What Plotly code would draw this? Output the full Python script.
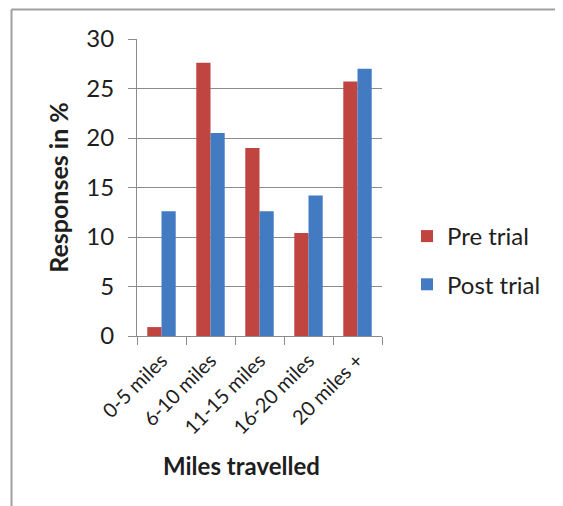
import plotly.graph_objects as go

categories = ["0-5 miles", "6-10 miles", "11-15 miles", "16-20 miles", "20 miles +"]
pre_trial = [0.9, 27.6, 19.0, 10.4, 25.7]
post_trial = [12.6, 20.5, 12.6, 14.2, 27.0]
y_ticks = [0, 5, 10, 15, 20, 25, 30]

# the page body adds an 8px offset; size the figure to fill the rest of the window
OFF = 8
W, H = 563 - OFF, 506 - OFF
L, R, T, B = 137 - OFF, 181, 39 - OFF, 170
pw, ph = W - L - R, H - T - B

def px(x):  # screen x -> paper
    return (x - OFF - L) / pw

def py(y):  # screen y -> paper
    return (H - B - (y - OFF)) / ph

FONT = "Lato"
TXT = "#1E1E1E"
GRID = "#8C8C8C"

fig = go.Figure()
fig.add_trace(go.Bar(x=categories, y=pre_trial, name="Pre trial", legendgroup="a",
                     marker=dict(color="#C0443F", line=dict(width=0))))
fig.add_trace(go.Bar(x=categories, y=post_trial, name="Post trial", legendgroup="b",
                     marker=dict(color="#427BC1", line=dict(width=0))))

fig.update_layout(
    width=W, height=H,
    margin=dict(l=L, r=R, t=T, b=B, autoexpand=False),
    paper_bgcolor="white", plot_bgcolor="white",
    barmode="group", bargap=0.42, bargroupgap=0,
    font=dict(family=FONT, color=TXT),
    legend=dict(x=px(407), y=py(214), xanchor="left", yanchor="top",
                font=dict(size=24, family=FONT, color=TXT),
                itemwidth=30, tracegroupgap=14, traceorder="grouped",
                bgcolor="rgba(0,0,0,0)"),
    xaxis=dict(type="category", tickangle=-45, tickfont=dict(size=20, family=FONT, color=TXT),
               showline=True, linecolor=GRID, linewidth=1,
               ticks="outside", ticklen=8, tickcolor=GRID, tickson="boundaries",
               ticklabelstandoff=4,
               showgrid=False, range=[-0.5, 4.5]),
    yaxis=dict(range=[0, 30], tickvals=y_ticks, tickfont=dict(size=24, family=FONT, color=TXT),
               showline=True, linecolor=GRID, linewidth=1,
               gridcolor=GRID, gridwidth=1, ticks="outside", ticklen=8, tickcolor=GRID,
               ticklabelstandoff=9,
               zeroline=False,
               title=dict(text="<b>Responses in %</b>", font=dict(size=25, family=FONT, color=TXT),
                          standoff=10)),
    annotations=[dict(text="<b>Miles travelled</b>", x=px(241), y=py(465), xref="paper", yref="paper",
                      showarrow=False, xanchor="center", yanchor="middle",
                      font=dict(size=24, family=FONT, color=TXT))],
    shapes=[
        dict(type="line", xref="paper", yref="paper", x0=px(11.5), x1=px(11.5), y0=py(9.5), y1=py(520),
             line=dict(color="#A0A0A0", width=2)),
        dict(type="line", xref="paper", yref="paper", x0=px(11.5), x1=px(580), y0=py(9.5), y1=py(9.5),
             line=dict(color="#A0A0A0", width=2)),
    ],
)

fig.write_html("out.html")
